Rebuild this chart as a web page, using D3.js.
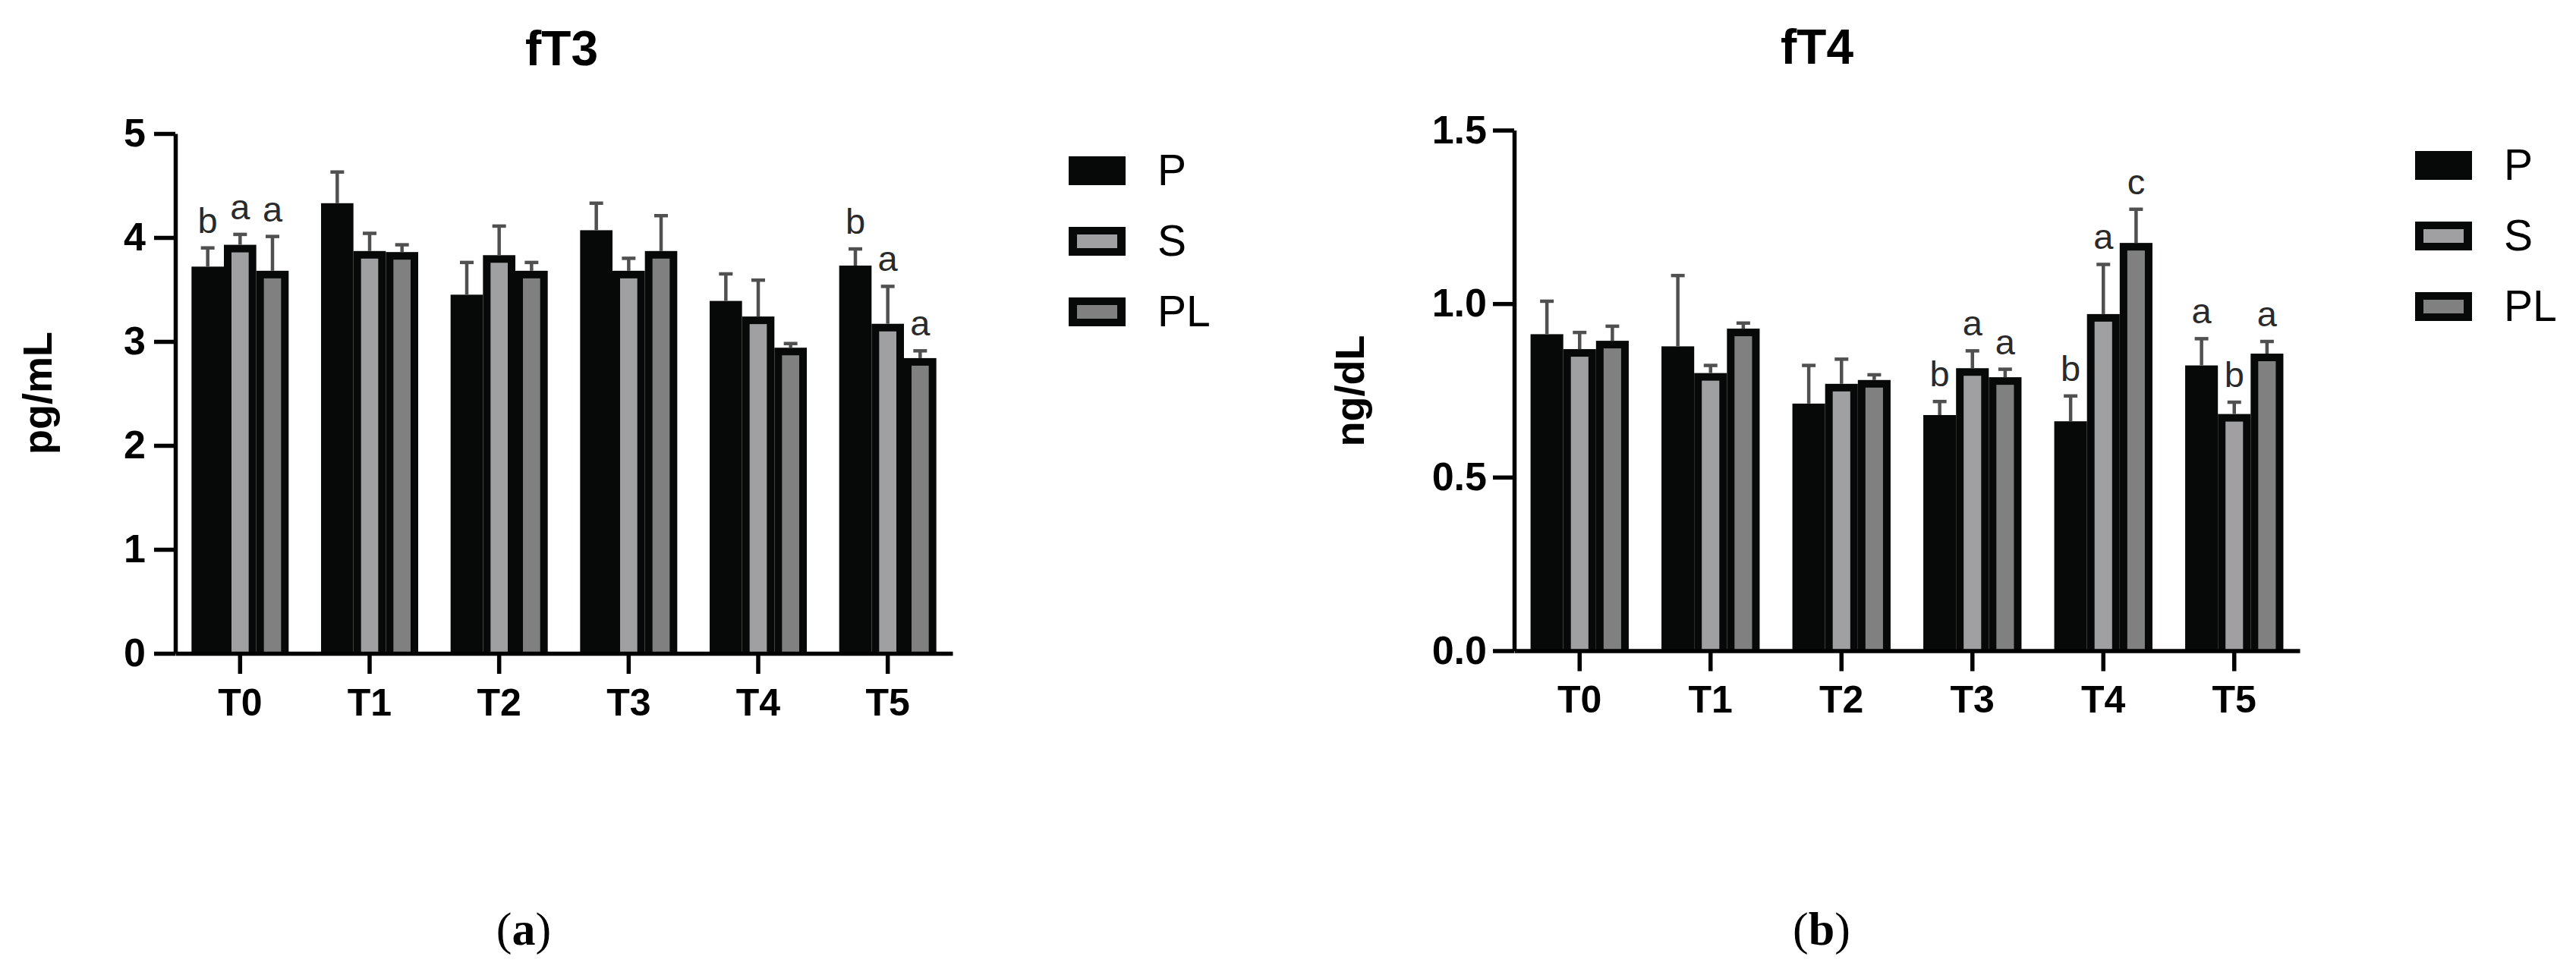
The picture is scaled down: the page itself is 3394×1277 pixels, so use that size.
<!DOCTYPE html>
<html>
<head>
<meta charset="utf-8">
<script src="https://cdn.jsdelivr.net/npm/d3@7/dist/d3.min.js"></script>
<style>
  html, body { margin: 0; padding: 0; background: #fff; }
  svg { display: block; }
</style>
</head>
<body>
<script>
// ---------- DATA ----------
const categories = ["T0", "T1", "T2", "T3", "T4", "T5"];
const seriesNames = ["P", "S", "PL"];

// fT3 (pg/mL)
const fT3_P  = [3.72, 4.33, 3.45, 4.07, 3.39, 3.73];
const fT3_S  = [3.93, 3.87, 3.83, 3.68, 3.24, 3.17];
const fT3_PL = [3.68, 3.86, 3.68, 3.87, 2.94, 2.84];
const fT3_P_err  = [0.18, 0.30, 0.31, 0.26, 0.26, 0.16];
const fT3_S_err  = [0.10, 0.17, 0.28, 0.12, 0.35, 0.36];
const fT3_PL_err = [0.33, 0.07, 0.08, 0.34, 0.04, 0.07];
const fT3_P_sig  = ["b", "", "", "", "", "b"];
const fT3_S_sig  = ["a", "", "", "", "", "a"];
const fT3_PL_sig = ["a", "", "", "", "", "a"];
const fT3_ticks = [0, 1, 2, 3, 4, 5];

// fT4 (ng/dL)
const fT4_P  = [0.912, 0.877, 0.712, 0.679, 0.661, 0.822];
const fT4_S  = [0.869, 0.800, 0.769, 0.814, 0.970, 0.682];
const fT4_PL = [0.893, 0.928, 0.780, 0.788, 1.175, 0.856];
const fT4_P_err  = [0.095, 0.204, 0.110, 0.039, 0.073, 0.077];
const fT4_S_err  = [0.048, 0.022, 0.071, 0.050, 0.143, 0.034];
const fT4_PL_err = [0.042, 0.016, 0.015, 0.023, 0.097, 0.035];
const fT4_P_sig  = ["", "", "", "b", "b", "a"];
const fT4_S_sig  = ["", "", "", "a", "a", "b"];
const fT4_PL_sig = ["", "", "", "a", "c", "a"];
const fT4_ticks = [0, 0.5, 1.0, 1.5];

const seriesFill = { P: "#070908", S: "#a0a0a2", PL: "#808080" };

// ---------- DRAWING ----------
const W = 3394, H = 1277;
const svg = d3.select("body").append("svg").attr("width", W).attr("height", H);

const sansFont = "'Liberation Sans', Arial, Helvetica, sans-serif";
const serifFont = "'Liberation Serif', 'Times New Roman', serif";

function drawChart(cfg) {
  const g = svg.append("g");
  const x = d3.scaleBand().domain(categories).range([cfg.x0, cfg.x1])
    .paddingInner(0.25).paddingOuter(0.125);
  const xs = d3.scaleBand().domain(seriesNames).range([0, x.bandwidth()]).padding(0);
  const y = d3.scaleLinear().domain(cfg.yDomain).range([cfg.yBottom, cfg.yTop]);

  const rows = [];
  seriesNames.forEach((s, si) => {
    categories.forEach((c, ci) => {
      rows.push({ cat: c, ser: s, v: cfg.values[si][ci], e: cfg.errs[si][ci], sig: cfg.sigs[si][ci] });
    });
  });

  const border = 10;
  const bars = g.append("g");
  // outer black bar
  bars.selectAll("rect.outer").data(rows).join("rect")
    .attr("class", "outer")
    .attr("x", d => x(d.cat) + xs(d.ser))
    .attr("width", xs.bandwidth())
    .attr("y", d => y(d.v))
    .attr("height", d => y(0) - y(d.v))
    .attr("fill", "#070908");
  // inner fill
  bars.selectAll("rect.inner").data(rows.filter(d => d.ser !== "P")).join("rect")
    .attr("class", "inner")
    .attr("x", d => x(d.cat) + xs(d.ser) + border)
    .attr("width", xs.bandwidth() - 2 * border)
    .attr("y", d => y(d.v) + border)
    .attr("height", d => Math.max(0, y(0) - y(d.v) - border))
    .attr("fill", d => seriesFill[d.ser]);

  // error bars
  const eg = g.append("g").attr("stroke", "#505050").attr("stroke-width", 4.5);
  eg.selectAll("line.v").data(rows).join("line")
    .attr("x1", d => x(d.cat) + xs(d.ser) + xs.bandwidth() / 2)
    .attr("x2", d => x(d.cat) + xs(d.ser) + xs.bandwidth() / 2)
    .attr("y1", d => y(d.v))
    .attr("y2", d => y(d.v + d.e));
  eg.selectAll("line.cap").data(rows).join("line")
    .attr("x1", d => x(d.cat) + xs(d.ser) + xs.bandwidth() / 2 - 9)
    .attr("x2", d => x(d.cat) + xs(d.ser) + xs.bandwidth() / 2 + 9)
    .attr("y1", d => y(d.v + d.e))
    .attr("y2", d => y(d.v + d.e));

  // significance letters
  g.append("g").selectAll("text").data(rows.filter(d => d.sig)).join("text")
    .attr("x", d => x(d.cat) + xs(d.ser) + xs.bandwidth() / 2)
    .attr("y", d => y(d.v + d.e) - 20)
    .attr("text-anchor", "middle")
    .attr("font-family", sansFont)
    .attr("font-size", 47)
    .attr("fill", "#2a2a2a")
    .text(d => d.sig);

  // axes
  const yAxis = d3.axisLeft(y).tickValues(cfg.ticks).tickFormat(cfg.fmt)
    .tickSize(28).tickSizeOuter(0).tickPadding(cfg.yPad);
  const ya = g.append("g").attr("transform", `translate(${cfg.x0},0)`).call(yAxis);
  const xAxis = d3.axisBottom(x).tickSize(27).tickSizeOuter(0).tickPadding(19);
  const xa = g.append("g").attr("transform", `translate(0,${cfg.yBottom})`).call(xAxis);
  [ya, xa].forEach(a => {
    a.select(".domain").attr("stroke", "#000").attr("stroke-width", 5.5);
    a.selectAll(".tick line").attr("stroke", "#000").attr("stroke-width", 5.5);
    a.selectAll(".tick text").attr("fill", "#000")
      .attr("font-family", sansFont).attr("font-weight", "bold");
  });
  ya.selectAll(".tick text").attr("font-size", 52);
  xa.selectAll(".tick text").attr("font-size", 50);
  ya.attr("font-size", null);
  xa.attr("font-size", null);

  // title
  g.append("text").attr("x", cfg.titleX).attr("y", cfg.titleY)
    .attr("text-anchor", "middle").attr("font-family", sansFont)
    .attr("font-weight", "bold").attr("font-size", 64).attr("fill", "#000")
    .text(cfg.title);

  // y label
  g.append("text")
    .attr("transform", `translate(${cfg.ylabX},${cfg.ylabY}) rotate(-90)`)
    .attr("text-anchor", "middle").attr("font-family", sansFont)
    .attr("font-weight", "bold").attr("font-size", 54).attr("fill", "#000")
    .text(cfg.ylab);

  // legend
  const lg = g.append("g");
  seriesNames.forEach((s, i) => {
    const ly = cfg.legY + i * 93;
    lg.append("rect").attr("x", cfg.legX).attr("y", ly).attr("width", 75).attr("height", 38)
      .attr("fill", "#070908");
    if (s !== "P") {
      lg.append("rect").attr("x", cfg.legX + 11).attr("y", ly + 10).attr("width", 75 - 22).attr("height", 38 - 20)
        .attr("fill", seriesFill[s]);
    }
    lg.append("text").attr("x", cfg.legX + 117).attr("y", ly + 38)
      .attr("font-family", sansFont).attr("font-size", 57).attr("fill", "#000")
      .text(s);
  });

  // panel label
  const pl = g.append("text").attr("x", cfg.panelX).attr("y", 1245)
    .attr("text-anchor", "middle").attr("font-family", serifFont)
    .attr("font-size", 62).attr("fill", "#000");
  pl.append("tspan").text("(");
  pl.append("tspan").attr("font-weight", "bold").text(cfg.panel);
  pl.append("tspan").text(")");
}

drawChart({
  x0: 231, x1: 1255, yTop: 176, yBottom: 861, yDomain: [0, 5],
  values: [fT3_P, fT3_S, fT3_PL], errs: [fT3_P_err, fT3_S_err, fT3_PL_err],
  sigs: [fT3_P_sig, fT3_S_sig, fT3_PL_sig],
  ticks: fT3_ticks, fmt: d3.format("d"), yPad: 11,
  title: "fT3", titleX: 740, titleY: 86,
  ylab: "pg/mL", ylabX: 68, ylabY: 518,
  legX: 1408, legY: 206, panel: "a", panelX: 690
});

drawChart({
  x0: 1995, x1: 3030, yTop: 171.5, yBottom: 857.5, yDomain: [0, 1.5],
  values: [fT4_P, fT4_S, fT4_PL], errs: [fT4_P_err, fT4_S_err, fT4_PL_err],
  sigs: [fT4_P_sig, fT4_S_sig, fT4_PL_sig],
  ticks: fT4_ticks, fmt: d3.format(".1f"), yPad: 8,
  title: "fT4", titleX: 2394, titleY: 84,
  ylab: "ng/dL", ylabX: 1797, ylabY: 515,
  legX: 3182, legY: 199, panel: "b", panelX: 2400
});
</script>
</body>
</html>
